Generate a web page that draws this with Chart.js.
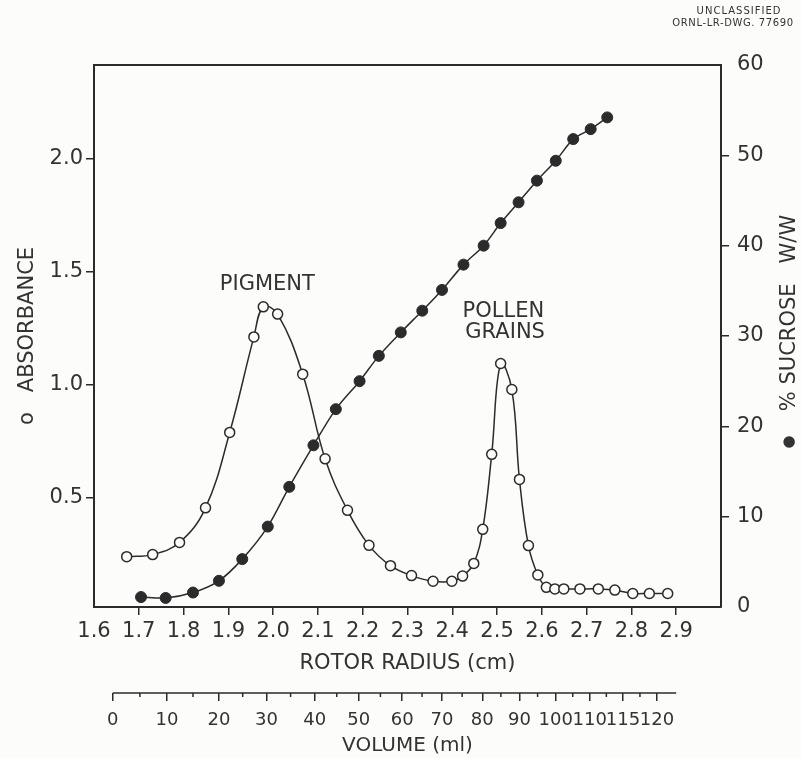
<!DOCTYPE html>
<html lang="en">
<head>
<meta charset="UTF-8">
<title>Pigment and pollen grains in a sucrose gradient</title>
<script src="https://cdn.jsdelivr.net/npm/chart.js"></script>
<style>
  body { margin: 0; background: #fcfcfa; }
  canvas { display: block; }
</style>
</head>
<body>

<canvas id="myChart" width="801" height="758"></canvas>

<script>
  // absorbance (open circles) against rotor radius
  const radiusOpen = [1.673, 1.731, 1.791, 1.849, 1.903, 1.957, 1.978, 2.010, 2.066, 2.116, 2.166, 2.214,
                      2.262, 2.309, 2.357, 2.399, 2.423, 2.448, 2.468, 2.488, 2.508, 2.533, 2.550, 2.570,
                      2.591, 2.610, 2.629, 2.649, 2.685, 2.726, 2.763, 2.803, 2.840, 2.881];
  const absorbance = [0.238, 0.247, 0.301, 0.454, 0.788, 1.211, 1.344, 1.312, 1.046, 0.671, 0.443, 0.288,
                      0.198, 0.154, 0.129, 0.129, 0.152, 0.208, 0.359, 0.691, 1.093, 0.978, 0.580, 0.287,
                      0.157, 0.102, 0.095, 0.095, 0.095, 0.095, 0.090, 0.075, 0.075, 0.075];

  // % sucrose w/w (filled circles)
  const radiusFilled = [1.705, 1.760, 1.821, 1.879, 1.931, 1.988, 2.036, 2.090, 2.140, 2.193, 2.236, 2.285,
                        2.333, 2.377, 2.425, 2.470, 2.508, 2.548, 2.589, 2.631, 2.670, 2.709, 2.746];
  const sucrose = [1.1, 1.0, 1.6, 2.9, 5.3, 8.9, 13.3, 17.9, 21.9, 25.0, 27.8, 30.4,
                   32.8, 35.1, 37.9, 40.0, 42.5, 44.8, 47.2, 49.4, 51.8, 52.9, 54.2];

  const radiusTicks = [1.6, 1.7, 1.8, 1.9, 2.0, 2.1, 2.2, 2.3, 2.4, 2.5, 2.6, 2.7, 2.8, 2.9];
  const absTicks = [0.5, 1.0, 1.5, 2.0];
  const sucroseTicks = [0, 10, 20, 30, 40, 50, 60];

  // volume scale printed under the radius axis (where each volume falls in radius)
  const volumeLabels = ['0', '10', '20', '30', '40', '50', '60', '70', '80', '90', '100', '110', '115', '120'];
  const volumeRadius = [1.642, 1.763, 1.879, 1.985, 2.093, 2.191, 2.288, 2.377, 2.467, 2.550, 2.631, 2.707, 2.781, 2.857];

  // peak names, anchored in data units
  const peakText = ['PIGMENT', 'POLLEN', 'GRAINS'];
  const peakRadius = [1.987, 2.514, 2.518];
  const peakAbs = [1.443, 1.325, 1.232];

  const ink = '#2b2b2b';
  const textInk = '#333333';
  const paper = '#fcfcfa';
  const family = '"DejaVu Sans", sans-serif';
  const big = { family: family, size: 21 };

  const extras = {
    id: 'extras',
    beforeDraw(chart) {
      const c = chart.ctx;
      c.save();
      c.fillStyle = paper;
      c.fillRect(0, 0, chart.width, chart.height);
      c.restore();
    },
    afterDraw(chart) {
      const c = chart.ctx;
      const a = chart.chartArea;
      const xs = chart.scales.x, xv = chart.scales.xv, y = chart.scales.y, y2 = chart.scales.y2;
      c.save();
      c.strokeStyle = ink;
      c.lineWidth = 2;
      c.beginPath();
      c.moveTo(a.left - 1, a.top);
      c.lineTo(a.right + 1, a.top);
      c.stroke();

      // volume axis line and the short in-between ticks
      const y0 = xv.top;
      c.lineWidth = 1.5;
      c.beginPath();
      c.moveTo(xv.getPixelForValue(volumeRadius[0]), y0);
      c.lineTo(xv.getPixelForValue(radiusTicks[radiusTicks.length - 1]), y0);
      for (let i = 1; i < volumeRadius.length; i++) {
        const px = xv.getPixelForValue((volumeRadius[i - 1] + volumeRadius[i]) / 2);
        c.moveTo(px, y0);
        c.lineTo(px, y0 + 4);
      }
      c.stroke();

      c.fillStyle = textInk;
      c.textAlign = 'center';
      c.textBaseline = 'middle';
      c.font = '21px ' + family;
      for (let i = 0; i < peakText.length; i++) {
        c.fillText(peakText[i], xs.getPixelForValue(peakRadius[i]), y.getPixelForValue(peakAbs[i]));
      }

      // right-hand title reads bottom to top like the left one
      c.save();
      c.translate(y2.right - 11, (a.top + a.bottom) / 2);
      c.rotate(-Math.PI / 2);
      c.fillText('% SUCROSE   W/W', 23, 0);
      c.font = '15px ' + family;
      c.fillText('\u25CF', -106, -1);
      c.restore();

      c.font = '10px ' + family;
      c.letterSpacing = '1px';
      c.fillText('UNCLASSIFIED', 739, 11);
      c.letterSpacing = '0.6px';
      c.fillText('ORNL-LR-DWG. 77690', 733, 23);
      c.restore();
    }
  };

  const ctx = document.getElementById('myChart').getContext('2d');
  const chart = new Chart(ctx, {
    type: 'line',
    data: {
      datasets: [{
        label: 'Absorbance',
        data: radiusOpen.map((r, i) => ({ x: r, y: absorbance[i] })),
        yAxisID: 'y',
        borderColor: ink,
        borderWidth: 1.5,
        tension: 0.4,
        pointRadius: 5,
        pointBorderWidth: 1.5,
        pointBorderColor: ink,
        pointBackgroundColor: paper
      }, {
        label: '% Sucrose',
        data: radiusFilled.map((r, i) => ({ x: r, y: sucrose[i] })),
        yAxisID: 'y2',
        borderColor: ink,
        borderWidth: 1.5,
        tension: 0.3,
        pointRadius: 5.5,
        pointBorderWidth: 1,
        pointBorderColor: ink,
        pointBackgroundColor: ink
      }]
    },
    options: {
      responsive: false,
      animation: false,
      layout: { padding: { top: 65, left: 0, right: 0, bottom: 0 } },
      plugins: { legend: { display: false }, tooltip: { enabled: false } },
      scales: {
        x: {
          type: 'linear',
          position: 'bottom',
          min: 1.6,
          max: 3.0,
          afterBuildTicks: s => { s.ticks = radiusTicks.map(v => ({ value: v })); },
          afterFit: s => { s.height = 86; },
          ticks: { callback: v => v.toFixed(1), font: big, color: textInk, padding: 4, autoSkip: false, maxRotation: 0, minRotation: 0 },
          grid: { drawOnChartArea: false, tickLength: 8, lineWidth: 1.5,
                  tickColor: c => (c.tick && c.tick.value === 1.6) ? 'transparent' : ink },
          border: { display: true, color: ink, width: 2 },
          title: { display: true, text: 'ROTOR RADIUS (cm)', font: big, color: textInk, padding: { top: 2, bottom: 17 } }
        },
        xv: {
          type: 'linear',
          position: 'bottom',
          min: 1.6,
          max: 3.0,
          afterBuildTicks: s => { s.ticks = volumeRadius.map(v => ({ value: v })); },
          afterFit: s => { s.height = 65; },
          ticks: { callback: (v, i) => volumeLabels[i], font: { family: family, size: 18 }, color: textInk,
                   padding: 9, autoSkip: false, maxRotation: 0, minRotation: 0 },
          grid: { drawOnChartArea: false, tickLength: 8, lineWidth: 1.5, tickColor: ink },
          border: { display: false },
          title: { display: true, text: 'VOLUME (ml)', font: { family: family, size: 20 }, color: textInk, padding: { top: 0, bottom: 0 } }
        },
        y: {
          type: 'linear',
          position: 'left',
          min: 0.015,
          max: 2.415,
          afterBuildTicks: s => { s.ticks = absTicks.map(v => ({ value: v })); },
          afterFit: s => { s.width = 94; },
          ticks: { callback: v => v.toFixed(1), font: big, color: textInk, padding: 3 },
          grid: { drawOnChartArea: false, tickLength: 8, lineWidth: 1.5, tickColor: ink },
          border: { display: true, color: ink, width: 2 },
          title: { display: true, text: 'o   ABSORBANCE', font: big, color: textInk, padding: { top: 15, bottom: 0 } }
        },
        y2: {
          type: 'linear',
          position: 'right',
          min: 0,
          max: 60,
          afterBuildTicks: s => { s.ticks = sucroseTicks.map(v => ({ value: v })); },
          afterFit: s => { s.width = 80; },
          ticks: { font: big, color: textInk, padding: 8 },
          grid: { drawOnChartArea: false, tickLength: 8, lineWidth: 1.5,
                  tickColor: c => (c.tick && (c.tick.value === 0 || c.tick.value === 60)) ? 'transparent' : ink },
          border: { display: true, color: ink, width: 2 }
        }
      }
    },
    plugins: [extras]
  });
</script>

</body>
</html>
